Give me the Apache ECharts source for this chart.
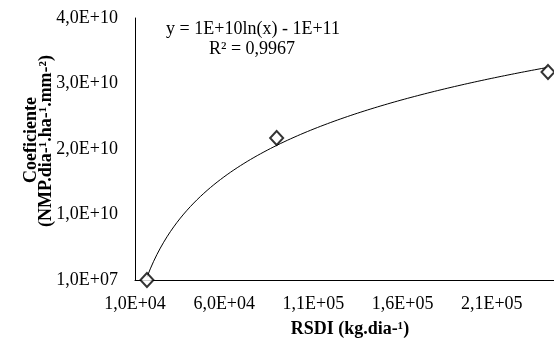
<!DOCTYPE html>
<html>
<head>
<meta charset="utf-8">
<script src="https://cdn.jsdelivr.net/npm/echarts@6/dist/echarts.min.js"></script>
<style>html,body{margin:0;padding:0;background:#fff;}#c{width:554px;height:339px;}</style>
</head>
<body>
<div id="c"></div>
<script>
// data
var rsdi = [16700, 89400, 241500];
var coef = [1.0e7, 2.17e10, 3.176e10];
var xTicks = ['1,0E+04', '6,0E+04', '1,1E+05', '1,6E+05', '2,1E+05'];
var yTicks = ['1,0E+07', '1,0E+10', '2,0E+10', '3,0E+10', '4,0E+10'];
var eqText = 'y = 1E+10ln(x) - 1E+11';
var r2Text = 'R² = 0,9967';
var xTitle = 'RSDI (kg.dia-¹)';
var yTitle1 = 'Coeficiente';
var yTitle2 = '(NMP.dia-¹.ha-¹.mm-²)';

// logarithmic least-squares trendline (like Excel) from the data
var n = rsdi.length, sl = 0, sy = 0, sll = 0, sly = 0;
for (var i = 0; i < n; i++) {
  var l = Math.log(rsdi[i]);
  sl += l; sy += coef[i]; sll += l * l; sly += l * coef[i];
}
var a = (n * sly - sl * sy) / (n * sll - sl * sl);
var b = (sy - a * sl) / n;
var trend = [];
var x0 = rsdi[0], x1 = rsdi[n - 1];
for (var k = 0; k <= 120; k++) {
  var xv = x0 + (x1 - x0) * k / 120;
  trend.push([xv, a * Math.log(xv) + b]);
}

var FONT = '"Liberation Serif", "Times New Roman", serif';
var chart = echarts.init(document.getElementById('c'), null, {renderer: 'canvas'});
chart.setOption({
  animation: false,
  backgroundColor: '#fff',
  grid: {left: 135, top: 18, width: 446, height: 262, containLabel: false, outerBoundsMode: 'none'},
  xAxis: {
    type: 'value', min: 10000, max: 260000, interval: 50000,
    axisLine: {show: true, lineStyle: {color: '#000', width: 1}},
    axisTick: {show: false},
    splitLine: {show: false},
    axisLabel: {
      margin: 15, color: '#000', fontFamily: FONT, fontSize: 18,
      formatter: function (v) { var idx = Math.round((v - 10000) / 50000); return xTicks[idx] || ''; }
    }
  },
  yAxis: {
    type: 'value', min: 1e7, max: 4.001e10, interval: 1e10,
    axisLine: {show: true, lineStyle: {color: '#000', width: 1}},
    axisTick: {show: false},
    splitLine: {show: false},
    axisLabel: {
      margin: 17, color: '#000', fontFamily: FONT, fontSize: 18,
      formatter: function (v) { var idx = Math.round((v - 1e7) / 1e10); return yTicks[idx] || ''; }
    }
  },
  series: [
    {
      type: 'line', data: trend, showSymbol: false, symbol: 'none', smooth: false,
      lineStyle: {color: '#000', width: 1}, z: 2, silent: true
    },
    {
      type: 'scatter', data: rsdi.map(function (x, i) { return [x, coef[i]]; }),
      symbol: 'diamond', symbolSize: [13, 14],
      itemStyle: {color: '#fff', borderColor: '#000', borderWidth: 2}, z: 3
    }
  ],
  graphic: [
    {type: 'text', x: 253, y: 29, style: {text: eqText, font: '18px ' + FONT, fill: '#000', textAlign: 'center', textVerticalAlign: 'middle'}},
    {type: 'text', x: 252, y: 49, style: {text: r2Text, font: '18px ' + FONT, fill: '#000', textAlign: 'center', textVerticalAlign: 'middle'}},
    {type: 'text', x: 350, y: 329, style: {text: xTitle, font: 'bold 18px ' + FONT, fill: '#000', textAlign: 'center', textVerticalAlign: 'middle'}},
    {type: 'text', x: 31, y: 140, rotation: Math.PI / 2, style: {text: yTitle1, font: 'bold 18px ' + FONT, fill: '#000', textAlign: 'center', textVerticalAlign: 'middle'}},
    {type: 'text', x: 46, y: 141, rotation: Math.PI / 2, style: {text: yTitle2, font: 'bold 18px ' + FONT, fill: '#000', textAlign: 'center', textVerticalAlign: 'middle'}}
  ]
});
</script>
</body>
</html>
